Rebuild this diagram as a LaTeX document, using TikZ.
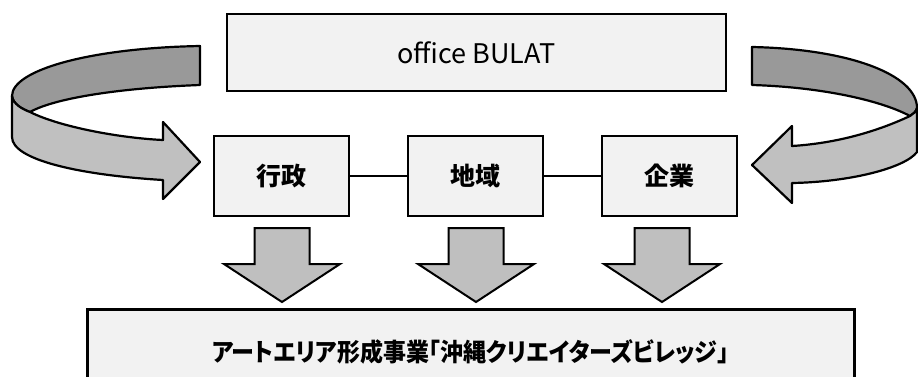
\documentclass[tikz,border=0pt]{standalone}
\usepackage{fontspec}
\setmainfont{Noto Sans CJK JP}
\newfontfamily\jpfont[RawFeature=+palt]{Noto Sans CJK JP}
\definecolor{boxgray}{HTML}{F2F2F2}
\definecolor{arrowgray}{HTML}{BFBFBF}
\definecolor{darkband}{HTML}{999999}
\definecolor{lightband}{HTML}{C0C0C0}
\begin{document}
\begin{tikzpicture}[x=1pt,y=-1pt,
    box/.style={draw,line width=2pt,fill=boxgray,inner sep=0pt},
    band/.style={draw,line width=2.2pt,line join=round},
    downarrow/.style={draw,line width=2pt,fill=arrowgray,line join=miter}]
  \clip (0,0) rectangle (918,376);
  % top and middle row
  \node[box,minimum width=499pt,minimum height=77pt,font=\fontsize{27}{27}\selectfont] (bulat) at (476.5,52.5) {office BULAT};
  \node[box,minimum width=135pt,minimum height=80pt,font=\fontsize{25}{25}\selectfont\bfseries] (gyosei) at (281,176) {行政};
  \node[box,minimum width=135pt,minimum height=80pt,font=\fontsize{25}{25}\selectfont\bfseries] (chiiki) at (475,176) {地域};
  \node[box,minimum width=135pt,minimum height=80pt,font=\fontsize{25}{25}\selectfont\bfseries] (kigyo) at (669,176) {企業};
  \draw[line width=2pt] (gyosei) -- (chiiki);
  \draw[line width=2pt] (chiiki) -- (kigyo);
  % bottom box
  \node[box,line width=3pt,minimum width=767pt,minimum height=86pt,font=\jpfont\fontsize{25}{25}\selectfont\bfseries] (jigyo) at (470.5,352) {\scalebox{0.92}[1]{アートエリア形成事業「沖縄クリエイターズビレッジ」}};
  % block arrows down
  \foreach \cx in {282,476,662}
    \draw[downarrow] ({\cx-27.5},228) -- ({\cx+27.5},228) -- ({\cx+27.5},264) -- ({\cx+58},264)
      -- (\cx,302) -- ({\cx-58},264) -- ({\cx-27.5},264) -- cycle;
  % left curved arrow
  \draw[band,fill=darkband] (200,46) .. controls (90,48) and (12,70) .. (12,96)
    .. controls (13,104) and (22,109) .. (30,112) .. controls (55,98) and (120,88) .. (200,85) -- cycle;
  \draw[band,fill=lightband] (12,96) .. controls (13,104) and (22,109) .. (30,112)
    .. controls (60,127) and (120,138) .. (163,140) -- (163,122) -- (200,162) -- (163,199) -- (163,180)
    .. controls (80,175) and (12,160) .. (12,137) -- cycle;
  % right curved arrow
  \draw[band,fill=darkband] (752,47) .. controls (850,49) and (917,75) .. (917,108)
    .. controls (916,112) and (913,114) .. (910,116) .. controls (880,100) and (820,87) .. (752,85) -- cycle;
  \draw[band,fill=lightband] (917,108) .. controls (916,112) and (913,114) .. (910,116)
    .. controls (880,130) and (840,143) .. (792,146) -- (792,126) -- (752,165) -- (792,203) -- (792,183)
    .. controls (850,182) and (905,168) .. (917,152) -- cycle;
\end{tikzpicture}
\end{document}
